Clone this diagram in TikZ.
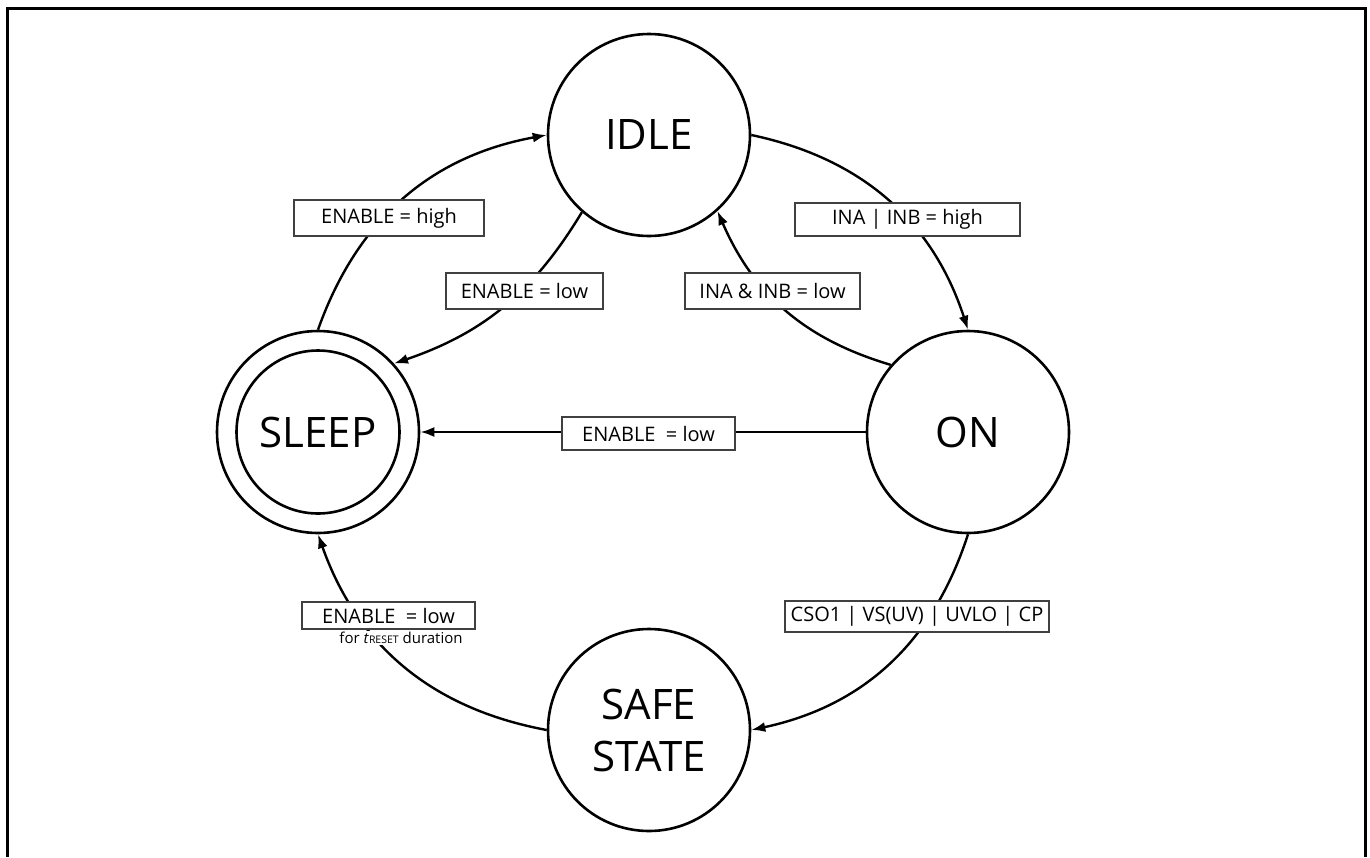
\documentclass[tikz,border=0pt]{standalone}
\usepackage{fontspec}
\setmainfont{Open Sans}
\usetikzlibrary{arrows.meta}
\begin{document}
\begin{tikzpicture}[x=1pt,y=-1pt,
  state/.style={circle,draw,line width=2.6pt,minimum size=202pt,inner sep=0pt,font=\fontsize{42}{50}\selectfont},
  lbl/.style={draw=black!75,line width=1.5pt,fill=white,inner sep=0pt,font=\fontsize{20}{24}\selectfont},
  trans/.style={line width=2.4pt,-{Latex[length=14pt,width=10pt]}}]
\useasboundingbox (0,0) rectangle (1370,857);
\draw[line width=3pt] (7,857) -- (7,8) -- (1365,8) -- (1365,857);
% states
\node[state] (idle) at (649,135) {IDLE};
\node[state] (on) at (968,432) {ON};
\node[state,align=center,font=\fontsize{42}{52}\selectfont] (safe) at (649,730) {SAFE\\STATE};
\node[state] (sleep) at (318,432) {};
\node[state,minimum size=163pt] (sleepin) at (sleep) {SLEEP};
% transitions
\draw[trans] (sleep.north) to[bend left=30] (idle.west);
\draw[trans] (idle.east) to[bend left=30] (on.north);
\draw[trans] (on.139) to[bend left=25] (idle.-48);
\draw[trans] (idle.-131) to[bend left=20] (sleep.42);
\draw[trans] (on.west) -- (sleep.east);
\draw[trans] (on.south) to[bend left=30] (safe.east);
\draw[trans] (safe.west) to[bend left=30] (sleep.south);
% labels
\node[lbl,minimum width=190pt,minimum height=36pt] (l1) at (389,218) {ENABLE = high};
\node[lbl,minimum width=225pt,minimum height=33pt] (l2) at (907.5,219.5) {INA | INB = high};
\node[lbl,minimum width=175pt,minimum height=36pt] (l3) at (772.5,291) {INA \& INB = low};
\node[lbl,minimum width=157pt,minimum height=36pt] (l4) at (524.5,291) {ENABLE = low};
\node[lbl,minimum width=173pt,minimum height=33pt] (l5) at (648.5,433.5) {ENABLE\ \ = low};
\node[lbl,minimum width=264pt,minimum height=31pt] (l6) at (917,616.5) {CSO1 | VS(UV) | UVLO | CP};
\node[lbl,minimum width=173pt,minimum height=27pt] (l7) at (388.5,615.5) {ENABLE\ \ = low};
\node[fill=white,inner sep=1pt,font=\fontsize{15}{18}\selectfont] (l7b) at (401,638) {for \textit{t}{\fontsize{10.5}{12}\selectfont RESET} duration};
\end{tikzpicture}
\end{document}
